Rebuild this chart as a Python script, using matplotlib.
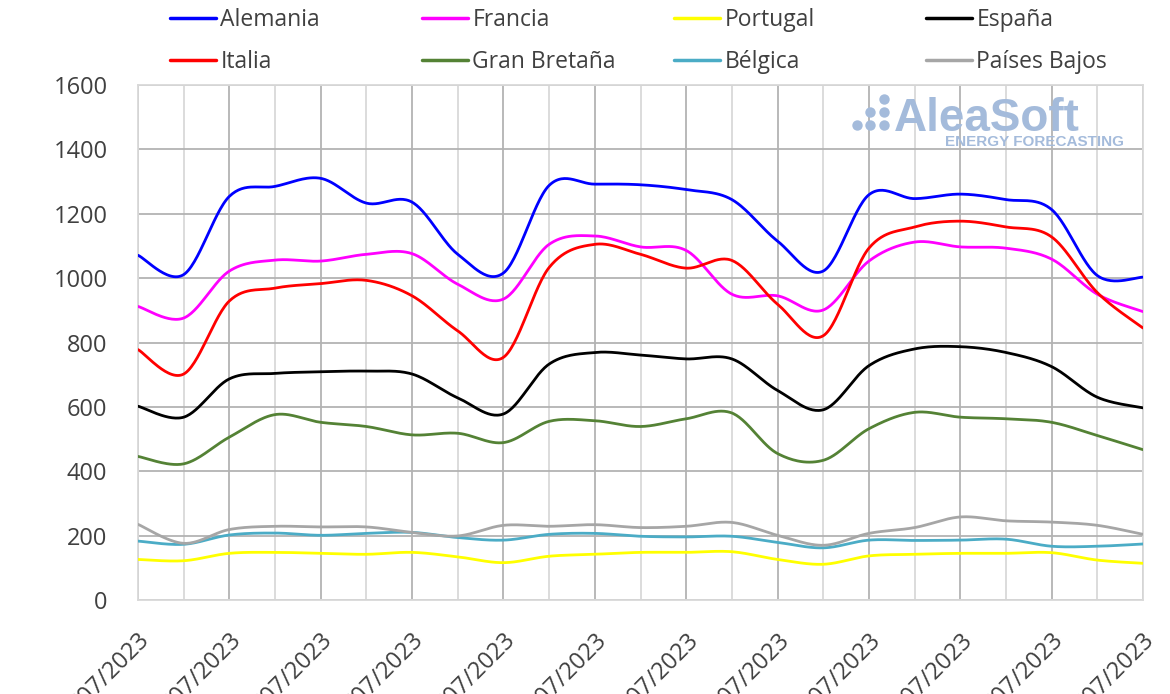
import numpy as np
import matplotlib
matplotlib.use("Agg")
import matplotlib.pyplot as plt
from matplotlib.lines import Line2D
import matplotlib.transforms as mtransforms

# ---------------- data ----------------
dates = [f"{d:02d}/07/2023" for d in range(1, 24)]
alemania = [1071, 1011, 1254, 1285, 1310, 1233, 1236, 1074, 1016, 1288, 1292, 1290,
            1275, 1244, 1115, 1022, 1259, 1247, 1261, 1244, 1213, 1008, 1003]
francia = [912, 876, 1022, 1056, 1053, 1074, 1076, 981, 935, 1105, 1131, 1097,
           1086, 950, 945, 901, 1053, 1112, 1097, 1093, 1059, 950, 896]
portugal = [126, 122, 145, 148, 145, 142, 148, 134, 116, 136, 142, 148,
            148, 150, 126, 111, 137, 142, 145, 145, 147, 124, 114]
espana = [602, 568, 687, 704, 709, 711, 702, 628, 578, 733, 769, 761,
          749, 749, 651, 591, 728, 780, 787, 769, 725, 630, 597]
italia = [778, 702, 929, 969, 983, 993, 945, 836, 754, 1033, 1105, 1074,
          1031, 1055, 919, 821, 1093, 1159, 1177, 1159, 1128, 955, 845]
gran_bretana = [446, 423, 506, 576, 552, 539, 513, 518, 489, 555, 557, 539,
                563, 581, 455, 434, 532, 583, 568, 563, 552, 511, 467]
belgica = [183, 173, 202, 208, 201, 207, 210, 194, 186, 204, 207, 198,
           196, 198, 179, 162, 186, 185, 186, 189, 167, 167, 174]
paises_bajos = [235, 176, 219, 229, 227, 227, 210, 199, 232, 229, 234, 225,
                229, 241, 201, 170, 207, 225, 258, 246, 242, 232, 204]

series = [
    ("Alemania", alemania, "#0000FF"),
    ("Francia", francia, "#FF00FF"),
    ("Portugal", portugal, "#FFFF00"),
    ("España", espana, "#000000"),
    ("Italia", italia, "#FF0000"),
    ("Gran Bretaña", gran_bretana, "#548235"),
    ("Bélgica", belgica, "#4BACC6"),
    ("Países Bajos", paises_bajos, "#A6A6A6"),
]


def smooth(y, n=30):
    """Excel-like smoothed line: cubic Bezier with Catmull-Rom control points."""
    y = np.asarray(y, float)
    x = np.arange(len(y), dtype=float)
    P = np.column_stack([x, y])
    Pext = np.vstack([P[0], P, P[-1]])
    t = np.linspace(0, 1, n, endpoint=False)[:, None]
    out = []
    for i in range(len(P) - 1):
        p0, p1, p2, p3 = Pext[i], Pext[i + 1], Pext[i + 2], Pext[i + 3]
        c1 = p1 + (p2 - p0) / 6.0
        c2 = p2 - (p3 - p1) / 6.0
        b = ((1 - t) ** 3) * p1 + 3 * ((1 - t) ** 2) * t * c1 + 3 * (1 - t) * t ** 2 * c2 + t ** 3 * p2
        out.append(b)
    out.append(P[-1][None, :])
    out = np.vstack(out)
    return out[:, 0], out[:, 1]


W, H = 1170, 694
fig = plt.figure(figsize=(W / 100, H / 100), dpi=100)
ax = fig.add_axes([138 / W, 1 - 600 / H, (1143 - 138) / W, (600 - 85) / H])

font = ["Open Sans", "DejaVu Sans"]
txt_color = "#404040"

handles = []
for name, vals, col in series:
    xs, ys = smooth(vals)
    ln, = ax.plot(xs, ys, color=col, lw=2.0, solid_capstyle="round", label=name, zorder=3)
    handles.append(ln)

ax.set_xlim(0, len(dates) - 1)
ax.set_ylim(0, 1600)
ax.set_yticks(np.arange(0, 1601, 200))
ax.set_xticks(np.arange(0, len(dates), 2))
ax.set_xticks(np.arange(0, len(dates), 1), minor=True)
ax.set_xticklabels(dates[::2], rotation=45, ha="right", va="top",
                   rotation_mode="anchor", family=font, fontsize=17, color=txt_color)
shift = mtransforms.ScaledTranslation(-5 / 100, 0, fig.dpi_scale_trans)
for lab in ax.get_xticklabels():
    lab.set_transform(lab.get_transform() + shift)
for lab in ax.get_yticklabels():
    lab.set_family(font)
    lab.set_fontsize(17)
    lab.set_color(txt_color)

ax.tick_params(axis="x", which="both", length=0, pad=20)
ax.tick_params(axis="y", which="both", length=0, pad=22)

ax.grid(axis="x", which="minor", color="#D9D9D9", lw=1.3, zorder=0)
ax.grid(axis="x", which="major", color="#B3B3B3", lw=1.3, zorder=1)
ax.grid(axis="y", which="major", color="#B3B3B3", lw=1.3, zorder=1)
ax.set_axisbelow(True)
for s in ax.spines.values():
    s.set_color("#D9D9D9")
    s.set_linewidth(1.3)

# ---------------- legend: 4 equal columns, 2 rows ----------------
col_x = [170, 422, 674, 926]
for c in range(4):
    hs = [handles[c], handles[c + 4]]
    leg = fig.legend(hs, [h.get_label() for h in hs], loc="upper left",
                     bbox_to_anchor=(col_x[c] / W, 1 - 8 / H),
                     frameon=False, handlelength=2.0, handletextpad=0.2,
                     labelspacing=0.78, borderaxespad=0, borderpad=0,
                     prop={"family": font, "size": 16.5})
    for t in leg.get_texts():
        t.set_color(txt_color)
    for lh in leg.get_lines():
        lh.set_linewidth(2.5)

# ---------------- watermark ----------------
logo = "#A4BBDB"
fig.text(894 / W, 1 - 131 / H, "AleaSoft", fontsize=33, fontweight="bold",
         family=["Liberation Sans", "DejaVu Sans"], color=logo, ha="left", va="baseline", zorder=5)
fig.text(1124 / W, 1 - 146 / H, "ENERGY FORECASTING", fontsize=11, fontweight="bold",
         family=["Liberation Sans", "DejaVu Sans"], color=logo, ha="right", va="baseline", zorder=5)
dot_x = [857, 870, 870, 884, 884, 884]
dot_y = [125, 112, 125, 99, 112, 125]
fig.add_artist(Line2D([x / W for x in dot_x], [1 - y / H for y in dot_y], ls="none",
                      marker="o", ms=7.5, color=logo, mec="none"))

fig.savefig("out.png", dpi=100)
